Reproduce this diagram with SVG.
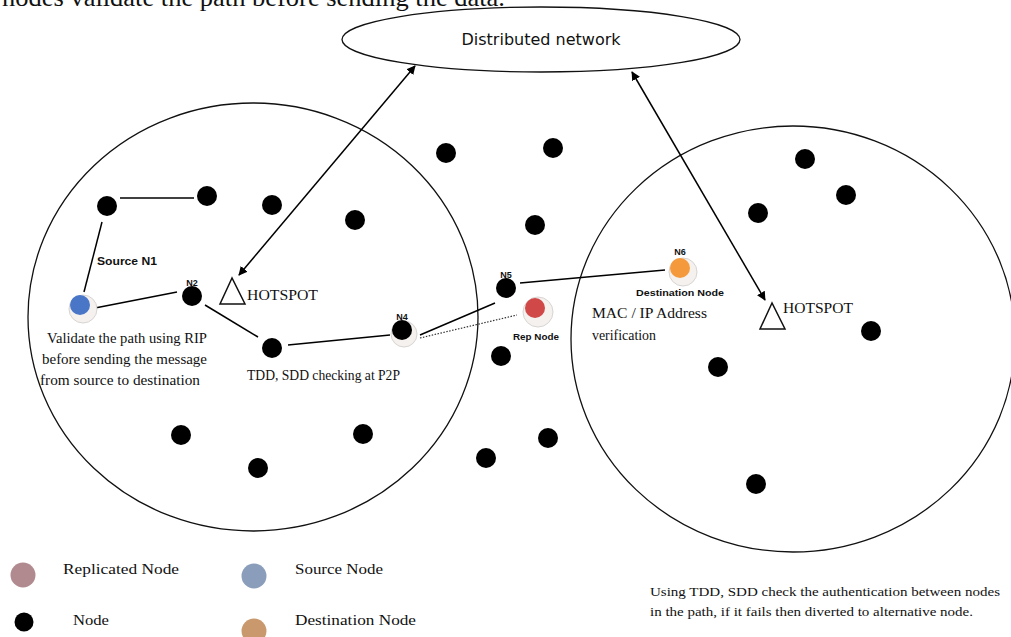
<svg xmlns="http://www.w3.org/2000/svg" width="1011" height="637" viewBox="0 0 1011 637">
<defs>
<marker id="ah" viewBox="0 0 10 10" refX="9" refY="5" markerWidth="9" markerHeight="9" orient="auto-start-reverse" markerUnits="userSpaceOnUse">
<path d="M0,0 L10,5 L0,10 z" fill="#000"/>
</marker>
<style>
.serif{font-family:"Liberation Serif","Times New Roman",serif;fill:#111}
.sans{font-family:"DejaVu Sans","Liberation Sans",sans-serif;fill:#111}
.lbl{font-family:"Liberation Sans",Arial,sans-serif;font-weight:bold;fill:#111}
.dot{fill:#000}
.halo{fill:#f4f1ef;stroke:#d8d4d2;stroke-width:1}
.ln{stroke:#000;stroke-width:1.5;fill:none}
.area{fill:none;stroke:#111;stroke-width:1.3}
</style>
</defs>
<rect width="1011" height="637" fill="#fff"/>

<text class="serif" x="2" y="6" font-size="26" textLength="503" lengthAdjust="spacingAndGlyphs">nodes validate the path before sending the data.</text>

<g id="network">
<ellipse cx="541" cy="39.5" rx="199" ry="32.5" class="area"/>
<text class="sans" x="541" y="45" font-size="16" text-anchor="middle">Distributed network</text>
</g>

<g id="zone-left"><ellipse cx="253" cy="317" rx="225" ry="214" class="area"/></g>
<g id="zone-right"><ellipse cx="793" cy="339" rx="222" ry="213" class="area"/></g>

<g id="connectors">
<line class="ln" x1="239" y1="275" x2="415" y2="66" marker-start="url(#ah)" marker-end="url(#ah)"/>
<line class="ln" x1="632" y1="72" x2="765" y2="300" marker-start="url(#ah)" marker-end="url(#ah)"/>
<line class="ln" x1="120" y1="198" x2="194" y2="198"/>
<line class="ln" x1="102" y1="222" x2="84" y2="292"/>
<line class="ln" x1="95" y1="308" x2="177" y2="292"/>
<line class="ln" x1="205" y1="305" x2="258" y2="337"/>
<line class="ln" x1="288" y1="345" x2="390" y2="335"/>
<line class="ln" x1="420" y1="335" x2="495" y2="303"/>
<line x1="420" y1="338" x2="517" y2="315" stroke="#333" stroke-width="1.2" stroke-dasharray="1.5,1.5"/>
<line class="ln" x1="520" y1="283" x2="665" y2="270"/>
</g>

<g id="hotspot-left">
<polygon points="232,278 220,304 245,304" fill="none" stroke="#111" stroke-width="1.5"/>
<text class="serif" x="247" y="300" font-size="15" textLength="71" lengthAdjust="spacingAndGlyphs">HOTSPOT</text>
</g>
<g id="hotspot-right">
<polygon points="772,303 760,329 785,329" fill="none" stroke="#111" stroke-width="1.5"/>
<text class="serif" x="783" y="313" font-size="15" textLength="70" lengthAdjust="spacingAndGlyphs">HOTSPOT</text>
</g>

<g id="n-a"><circle class="dot" cx="107" cy="206" r="10"/></g>
<g id="n-b"><circle class="dot" cx="207" cy="196" r="10"/></g>
<g id="n-c"><circle class="dot" cx="272" cy="205" r="10"/></g>
<g id="n-d"><circle class="dot" cx="355" cy="220" r="10"/></g>
<g id="n2"><circle class="dot" cx="192" cy="296" r="10"/><text class="lbl" x="192" y="286" font-size="9" text-anchor="middle">N2</text></g>
<g id="n3"><circle class="dot" cx="272" cy="348" r="10"/></g>
<g id="n4"><circle class="halo" cx="404" cy="334" r="13"/><circle class="dot" cx="402" cy="330" r="10"/><text class="lbl" x="402" y="320" font-size="9" text-anchor="middle">N4</text></g>
<g id="n-e"><circle class="dot" cx="181" cy="435" r="10"/></g>
<g id="n-f"><circle class="dot" cx="363" cy="434" r="10"/></g>
<g id="n-g"><circle class="dot" cx="258" cy="468" r="10"/></g>
<g id="n-h"><circle class="dot" cx="446" cy="153" r="10"/></g>
<g id="n-i"><circle class="dot" cx="553" cy="148" r="10"/></g>
<g id="n-j"><circle class="dot" cx="535" cy="225" r="10"/></g>
<g id="n5"><circle class="dot" cx="506" cy="288" r="10"/><text class="lbl" x="506" y="278" font-size="9" text-anchor="middle">N5</text></g>
<g id="n-k"><circle class="dot" cx="501" cy="356" r="10"/></g>
<g id="n-l"><circle class="dot" cx="548" cy="438" r="10"/></g>
<g id="n-m"><circle class="dot" cx="486" cy="458" r="10"/></g>
<g id="n-n"><circle class="dot" cx="805" cy="159" r="10"/></g>
<g id="n-o"><circle class="dot" cx="846" cy="195" r="10"/></g>
<g id="n-p"><circle class="dot" cx="758" cy="213" r="10"/></g>
<g id="n-q"><circle class="dot" cx="871" cy="331" r="10"/></g>
<g id="n-r"><circle class="dot" cx="718" cy="367" r="10"/></g>
<g id="n-s"><circle class="dot" cx="756" cy="484" r="10"/></g>

<g id="source">
<circle class="halo" cx="83" cy="309" r="14"/>
<circle cx="80" cy="305" r="10" fill="#4a76c8"/>
<text class="lbl" x="97" y="265" font-size="11" textLength="60" lengthAdjust="spacingAndGlyphs">Source N1</text>
<text class="serif" x="47" y="343" font-size="14" textLength="160" lengthAdjust="spacingAndGlyphs">Validate the path using RIP</text>
<text class="serif" x="42" y="364" font-size="14" textLength="165" lengthAdjust="spacingAndGlyphs">before sending the message</text>
<text class="serif" x="40" y="385" font-size="14" textLength="160" lengthAdjust="spacingAndGlyphs">from source to destination</text>
</g>

<g id="p2p-note"><text class="serif" x="247" y="380" font-size="14" textLength="153" lengthAdjust="spacingAndGlyphs">TDD, SDD checking at P2P</text></g>

<g id="rep">
<circle class="halo" cx="538" cy="312" r="15"/>
<circle cx="535" cy="308" r="10" fill="#d04848"/>
<text class="lbl" x="536" y="340" font-size="9.5" text-anchor="middle" textLength="46" lengthAdjust="spacingAndGlyphs">Rep Node</text>
</g>

<g id="n6">
<circle class="halo" cx="683" cy="272" r="14"/>
<circle cx="680" cy="268" r="10" fill="#f59a3c"/>
<text class="lbl" x="680" y="255" font-size="9" text-anchor="middle">N6</text>
<text class="lbl" x="680" y="296" font-size="9.5" text-anchor="middle" textLength="88" lengthAdjust="spacingAndGlyphs">Destination Node</text>
</g>

<g id="mac-note">
<text class="serif" x="592" y="318" font-size="15" textLength="115" lengthAdjust="spacingAndGlyphs">MAC / IP Address</text>
<text class="serif" x="592" y="340" font-size="15" textLength="64" lengthAdjust="spacingAndGlyphs">verification</text>
</g>

<g id="legend">
<circle cx="23" cy="575" r="12.5" fill="#b08a8e"/>
<text class="serif" x="63" y="574" font-size="15" textLength="116" lengthAdjust="spacingAndGlyphs">Replicated Node</text>
<circle cx="254" cy="576" r="12.5" fill="#8a9dba"/>
<text class="serif" x="295" y="574" font-size="15" textLength="88" lengthAdjust="spacingAndGlyphs">Source Node</text>
<circle cx="24" cy="622" r="9.5" fill="#000"/>
<text class="serif" x="73" y="625" font-size="15" textLength="36" lengthAdjust="spacingAndGlyphs">Node</text>
<circle cx="254" cy="631" r="12.5" fill="#c9986c"/>
<text class="serif" x="295" y="625" font-size="15" textLength="121" lengthAdjust="spacingAndGlyphs">Destination Node</text>
</g>

<g id="bottom-note">
<text class="serif" x="650" y="596" font-size="12.5" textLength="350" lengthAdjust="spacingAndGlyphs">Using TDD, SDD check the authentication between nodes</text>
<text class="serif" x="650" y="616" font-size="12.5" textLength="323" lengthAdjust="spacingAndGlyphs">in the path, if it fails then diverted to alternative node.</text>
</g>
</svg>
